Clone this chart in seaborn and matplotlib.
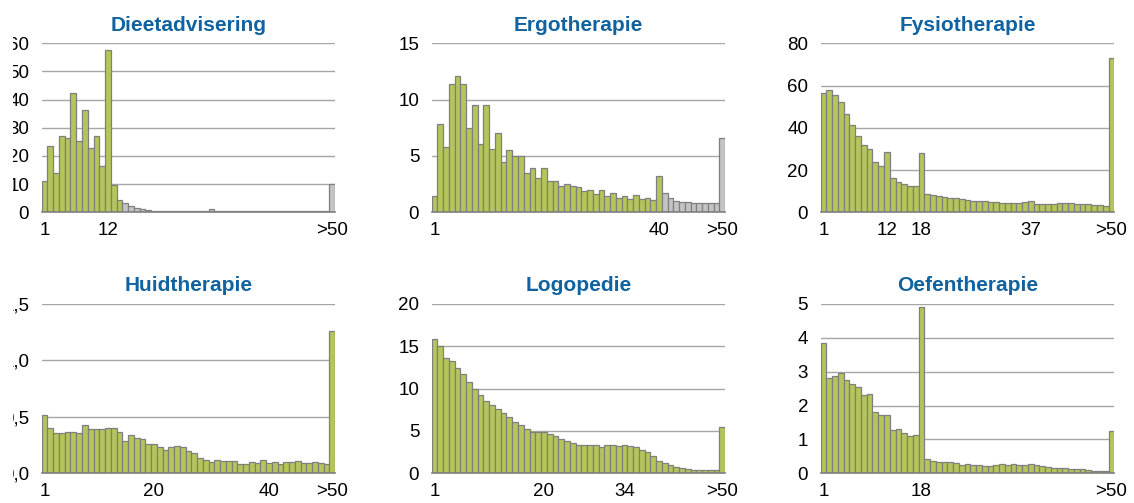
import matplotlib
matplotlib.use('Agg')
import matplotlib.pyplot as plt
import matplotlib.transforms as mtransforms
import seaborn as sns

# Categories: number of treatments 1..50 and >50
categories = [str(i) for i in range(1, 51)] + ['>50']

# Percentages per panel
dieet = [11.1, 23.7, 14.1, 26.9, 26.3, 42.5, 25.3, 36.4, 22.7, 27.1,
         16.6, 57.6, 9.7, 4.3, 3.2, 2.4, 1.4, 1.0, 0.7, 0.5,
         0.3, 0.3, 0.3, 0.3, 0.3, 0.3, 0.3, 0.3, 0.3, 1.0,
         0.3, 0.3, 0.3, 0.3, 0.3, 0.5, 0.3, 0.3, 0.3, 0.3,
         0.3, 0.3, 0.3, 0.3, 0.4, 0.3, 0.3, 0.3, 0.3, 0.3,
         9.9]
ergo = [1.45, 7.8, 5.8, 11.4, 12.1, 11.4, 7.5, 9.5, 6.1, 9.5,
        5.6, 7.0, 4.5, 5.5, 5.0, 5.0, 3.5, 3.9, 3.0, 3.9,
        2.8, 2.8, 2.3, 2.5, 2.3, 2.2, 1.9, 2.0, 1.6, 1.95,
        1.45, 1.7, 1.3, 1.4, 1.2, 1.5, 1.2, 1.25, 1.1, 3.25,
        1.7, 1.25, 1.0, 0.9, 0.9, 0.85, 0.8, 0.8, 0.8, 0.8,
        6.6]
fysio = [56.3, 57.9, 55.4, 52.4, 46.5, 41.2, 36.1, 31.7, 29.8, 24.0,
         21.9, 28.5, 16.2, 14.4, 13.6, 12.6, 12.3, 27.9, 8.5, 8.0,
         7.6, 7.1, 6.9, 6.6, 6.3, 6.0, 5.5, 5.2, 5.2, 4.9,
         4.7, 4.6, 4.6, 4.4, 4.6, 4.7, 5.2, 4.1, 4.1, 4.1,
         4.1, 4.3, 4.3, 4.3, 4.1, 3.9, 3.8, 3.6, 3.5, 2.8,
         72.9]
huid = [0.52, 0.40, 0.36, 0.36, 0.37, 0.37, 0.36, 0.43, 0.39, 0.39,
        0.39, 0.40, 0.40, 0.37, 0.29, 0.34, 0.31, 0.30, 0.26, 0.26,
        0.23, 0.21, 0.23, 0.245, 0.23, 0.20, 0.18, 0.14, 0.115, 0.10,
        0.115, 0.105, 0.11, 0.11, 0.08, 0.08, 0.10, 0.09, 0.115, 0.09,
        0.10, 0.08, 0.10, 0.10, 0.105, 0.095, 0.09, 0.10, 0.09, 0.08,
        1.26]
logo = [15.9, 15.0, 13.6, 13.2, 12.4, 11.7, 10.8, 9.9, 9.2, 8.5,
        8.1, 7.6, 7.1, 6.6, 6.1, 5.7, 5.2, 4.9, 4.9, 4.85,
        4.65, 4.4, 4.05, 3.8, 3.6, 3.4, 3.4, 3.3, 3.3, 3.1,
        3.3, 3.3, 3.25, 3.35, 3.2, 3.1, 2.7, 2.5, 2.0, 1.45,
        1.25, 1.0, 0.8, 0.6, 0.5, 0.43, 0.4, 0.35, 0.35, 0.35,
        5.5]
oefen = [3.83, 2.80, 2.86, 2.95, 2.76, 2.62, 2.54, 2.30, 2.33, 1.81,
         1.71, 1.71, 1.29, 1.30, 1.18, 1.10, 1.14, 4.91, 0.42, 0.37,
         0.32, 0.32, 0.32, 0.30, 0.26, 0.27, 0.25, 0.25, 0.22, 0.21,
         0.25, 0.27, 0.25, 0.28, 0.25, 0.26, 0.28, 0.26, 0.22, 0.19,
         0.16, 0.16, 0.16, 0.13, 0.13, 0.12, 0.10, 0.07, 0.07, 0.07,
         1.24]

# Axis ticks per panel
dieet_yticks = [0, 10, 20, 30, 40, 50, 60]
ergo_yticks = [0, 5, 10, 15]
fysio_yticks = [0, 20, 40, 60, 80]
huid_yticks = [0, 0.5, 1.0, 1.5]
logo_yticks = [0, 5, 10, 15, 20]
oefen_yticks = [0, 1, 2, 3, 4, 5]
huid_ylabels = ['0,0', '0,5', '1,0', '1,5']

dieet_xlabels = ['1', '12', '>50']
ergo_xlabels = ['1', '40', '>50']
fysio_xlabels = ['1', '12', '18', '37', '>50']
huid_xlabels = ['1', '20', '40', '>50']
logo_xlabels = ['1', '20', '34', '>50']
oefen_xlabels = ['1', '18', '>50']

GREEN = '#b5c55a'
GREY = '#c4c4c4'
EDGE = '#7f7f7f'
BLUE = '#1063a0'

sns.set_theme(style='white')
plt.rcParams['font.family'] = ['Liberation Sans', 'DejaVu Sans']

fig = plt.figure(figsize=(11.34, 5.03), dpi=100)

# The original picture is cropped on the left, cutting into the first y labels
crop_box = mtransforms.TransformedBbox(
    mtransforms.Bbox.from_extents(13 / 1134, 0, 1, 1), fig.transFigure)

# panel: title, values, yticks, ylabels, xlabels, number of green bars, axes rect
panels = [
    ('Dieetadvisering', dieet, dieet_yticks, None, dieet_xlabels, 14, [0.0368, 0.578, 0.2587, 0.336]),
    ('Ergotherapie', ergo, ergo_yticks, None, ergo_xlabels, 40, [0.3807, 0.578, 0.2587, 0.336]),
    ('Fysiotherapie', fysio, fysio_yticks, None, fysio_xlabels, 51, [0.7237, 0.578, 0.2589, 0.336]),
    ('Huidtherapie', huid, huid_yticks, huid_ylabels, huid_xlabels, 51, [0.0368, 0.059, 0.2587, 0.337]),
    ('Logopedie', logo, logo_yticks, None, logo_xlabels, 51, [0.3807, 0.059, 0.2587, 0.337]),
    ('Oefentherapie', oefen, oefen_yticks, None, oefen_xlabels, 51, [0.7237, 0.059, 0.2589, 0.337]),
]

for title, values, yticks, ylabels, xlabels, n_green, rect in panels:
    ax = fig.add_axes(rect)
    colors = [GREEN if i < n_green else GREY for i in range(len(categories))]

    # Gridlines first so the bars sit on top
    for t in yticks[1:]:
        ax.axhline(t, color='#a6a6a6', linewidth=1, zorder=0)

    sns.barplot(x=categories, y=values, hue=categories, palette=colors,
                saturation=1, width=1, edgecolor=EDGE, linewidth=0.9,
                legend=False, ax=ax, zorder=2)

    ax.set_xlim(-0.5, len(categories) - 0.5)
    ax.set_ylim(0, yticks[-1])
    ax.set_yticks(yticks)
    if ylabels is not None:
        ax.set_yticklabels(ylabels)
    ax.set_xticks([categories.index(lbl) for lbl in xlabels])
    ax.set_xticklabels(xlabels)
    ax.tick_params(axis='both', length=0, labelsize=13.5, colors='black')
    ax.tick_params(axis='y', pad=9)
    ax.tick_params(axis='x', pad=7)
    ax.set_xlabel('')
    ax.set_ylabel('')

    for side in ['left', 'right', 'top']:
        ax.spines[side].set_visible(False)
    ax.spines['bottom'].set_color(EDGE)
    ax.spines['bottom'].set_linewidth(1.2)

    ax.set_title(title, color=BLUE, fontsize=15, fontweight='bold', pad=9)
    ax.grid(False)

    # Clip the y labels of the left column like the cropped original
    if rect[0] < 0.1:
        for lab in ax.get_yticklabels():
            lab.set_clip_box(crop_box)
            lab.set_clip_on(True)

plt.savefig('out.png', dpi=100)
